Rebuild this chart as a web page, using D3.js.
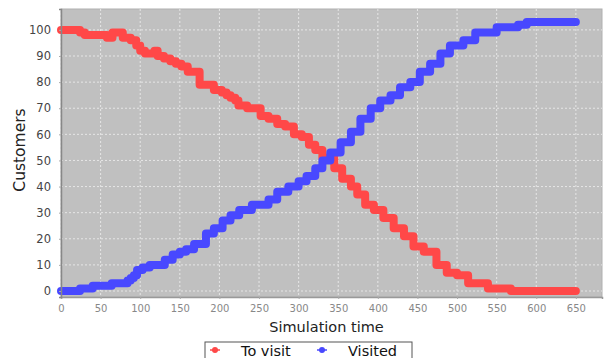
<!DOCTYPE html>
<meta charset="utf-8">
<body style="margin:0;background:#fff">
<script src="https://d3js.org/d3.v7.min.js"></script>
<script>
	// simulation data
	var toVisitTime  = [0, 24, 30, 58, 65, 78, 88, 95, 100, 106, 118, 122, 130, 138, 145, 152, 160, 175, 193, 203, 209, 214, 220, 224, 235, 252, 262, 273, 283, 294, 304, 313, 321, 330, 345, 355, 366, 374, 384, 395, 407, 420, 433, 445, 458, 474, 487, 500, 514, 539, 568, 650];
	var toVisitValue = [100, 99, 98, 97, 99, 97, 96, 94, 92, 91, 92, 90, 89, 88, 87, 86, 84, 79, 77, 76, 75, 74, 73, 71, 70, 67, 66, 64, 63, 60, 59, 56, 54, 51, 47, 43, 40, 37, 33, 31, 28, 24, 21, 17, 15, 10, 7, 6, 3, 1, 0, 0];

	var visitedTime  = [0, 24, 40, 64, 84, 88, 92, 96, 103, 112, 131, 141, 150, 158, 168, 183, 193, 204, 214, 225, 241, 262, 273, 287, 300, 310, 321, 330, 340, 353, 366, 378, 391, 403, 416, 428, 441, 453, 466, 479, 491, 508, 523, 550, 577, 588, 650];
	var visitedValue = [0, 1, 2, 3, 4, 5, 6, 8, 9, 10, 12, 14, 15, 16, 18, 22, 24, 27, 29, 31, 33, 35, 38, 40, 42, 44, 47, 50, 53, 57, 61, 66, 70, 73, 75, 78, 80, 84, 87, 91, 94, 96, 99, 101, 102, 103, 103];

	var xTicks = [0, 50, 100, 150, 200, 250, 300, 350, 400, 450, 500, 550, 600, 650];
	var yTicks = [0, 10, 20, 30, 40, 50, 60, 70, 80, 90, 100];

	var seriesNames  = ["To visit", "Visited"];
	var seriesColors = ["#ff4848", "#4848ff"];

	var width = 607, height = 358;
	var plotLeft = 61, plotTop = 9, plotRight = 602, plotBottom = 297;

	var svg = d3.select("body").append("svg")
		.attr("width", width)
		.attr("height", height)
		.style("display", "block")
		.style("font-family", "DejaVu Sans, sans-serif");

	var x = d3.scaleLinear().domain([0, 683]).range([plotLeft, plotRight]);
	var y = d3.scaleLinear().domain([-2.3, 108]).range([plotBottom, plotTop]);

	// plot background
	svg.append("rect")
		.attr("x", plotLeft).attr("y", plotTop)
		.attr("width", plotRight - plotLeft).attr("height", plotBottom - plotTop)
		.attr("fill", "#c0c0c0")
		.attr("stroke", "#b0b0b0");

	// grid
	svg.append("g").selectAll("line")
		.data(xTicks)
		.join("line")
		.attr("x1", d => x(d)).attr("x2", d => x(d))
		.attr("y1", plotTop).attr("y2", plotBottom)
		.attr("stroke", "#e6e6e6")
		.attr("stroke-dasharray", "2,2");
	svg.append("g").selectAll("line")
		.data(yTicks)
		.join("line")
		.attr("x1", plotLeft).attr("x2", plotRight)
		.attr("y1", d => y(d)).attr("y2", d => y(d))
		.attr("stroke", "#e6e6e6")
		.attr("stroke-dasharray", "2,2");

	// lines
	var series = [
		d3.zip(toVisitTime, toVisitValue),
		d3.zip(visitedTime, visitedValue)
	];
	var line = d3.line()
		.x(d => x(d[0]))
		.y(d => y(d[1]))
		.curve(d3.curveStepAfter);
	svg.append("g").selectAll("path")
		.data(series)
		.join("path")
		.attr("d", line)
		.attr("fill", "none")
		.attr("stroke", (d, i) => seriesColors[i])
		.attr("stroke-width", 8)
		.attr("stroke-linejoin", "round")
		.attr("stroke-linecap", "round");

	// axes
	var xAxis = svg.append("g")
		.attr("transform", "translate(0," + plotBottom + ")")
		.call(d3.axisBottom(x).tickValues(xTicks).tickSize(2).tickPadding(6));
	var yAxis = svg.append("g")
		.attr("transform", "translate(" + plotLeft + ",0)")
		.call(d3.axisLeft(y).tickValues(yTicks).tickSize(2).tickPadding(8));
	xAxis.select(".domain").attr("stroke", "#999").attr("stroke-width", 1.5);
	yAxis.select(".domain").attr("stroke", "#888").attr("stroke-width", 1.5);
	xAxis.selectAll(".tick line").attr("stroke", "#aaa");
	yAxis.selectAll(".tick line").attr("stroke", "#aaa");
	xAxis.selectAll("text").attr("font-size", 10).attr("fill", "#888").style("font-family", "DejaVu Sans, sans-serif");
	yAxis.selectAll("text").attr("font-size", 11.5).attr("fill", "#444").style("font-family", "DejaVu Sans, sans-serif");

	// axis titles
	svg.append("text")
		.attr("x", (plotLeft + plotRight) / 2 - 5).attr("y", 332)
		.attr("text-anchor", "middle")
		.attr("font-size", 14.5).attr("fill", "#222")
		.text("Simulation time");
	svg.append("text")
		.attr("transform", "translate(25,150) rotate(-90)")
		.attr("text-anchor", "middle")
		.attr("font-size", 15.5).attr("fill", "#222")
		.text("Customers");

	// legend
	var legend = svg.append("g").attr("transform", "translate(205,342)");
	legend.append("rect")
		.attr("width", 207).attr("height", 20)
		.attr("fill", "#fff").attr("stroke", "#555");
	var item = legend.selectAll("g.item")
		.data(seriesNames)
		.join("g")
		.attr("class", "item")
		.attr("transform", (d, i) => "translate(" + (i * 107) + ",0)");
	item.append("line")
		.attr("x1", 5).attr("x2", 15).attr("y1", 8).attr("y2", 8)
		.attr("stroke", (d, i) => seriesColors[i]).attr("stroke-width", 1.5);
	item.append("circle")
		.attr("cx", 10).attr("cy", 8).attr("r", 3)
		.attr("fill", (d, i) => seriesColors[i]);
	item.append("text")
		.attr("x", 36).attr("y", 14)
		.attr("font-size", 14.5).attr("fill", "#111")
		.text(d => d);
</script>
</body>
